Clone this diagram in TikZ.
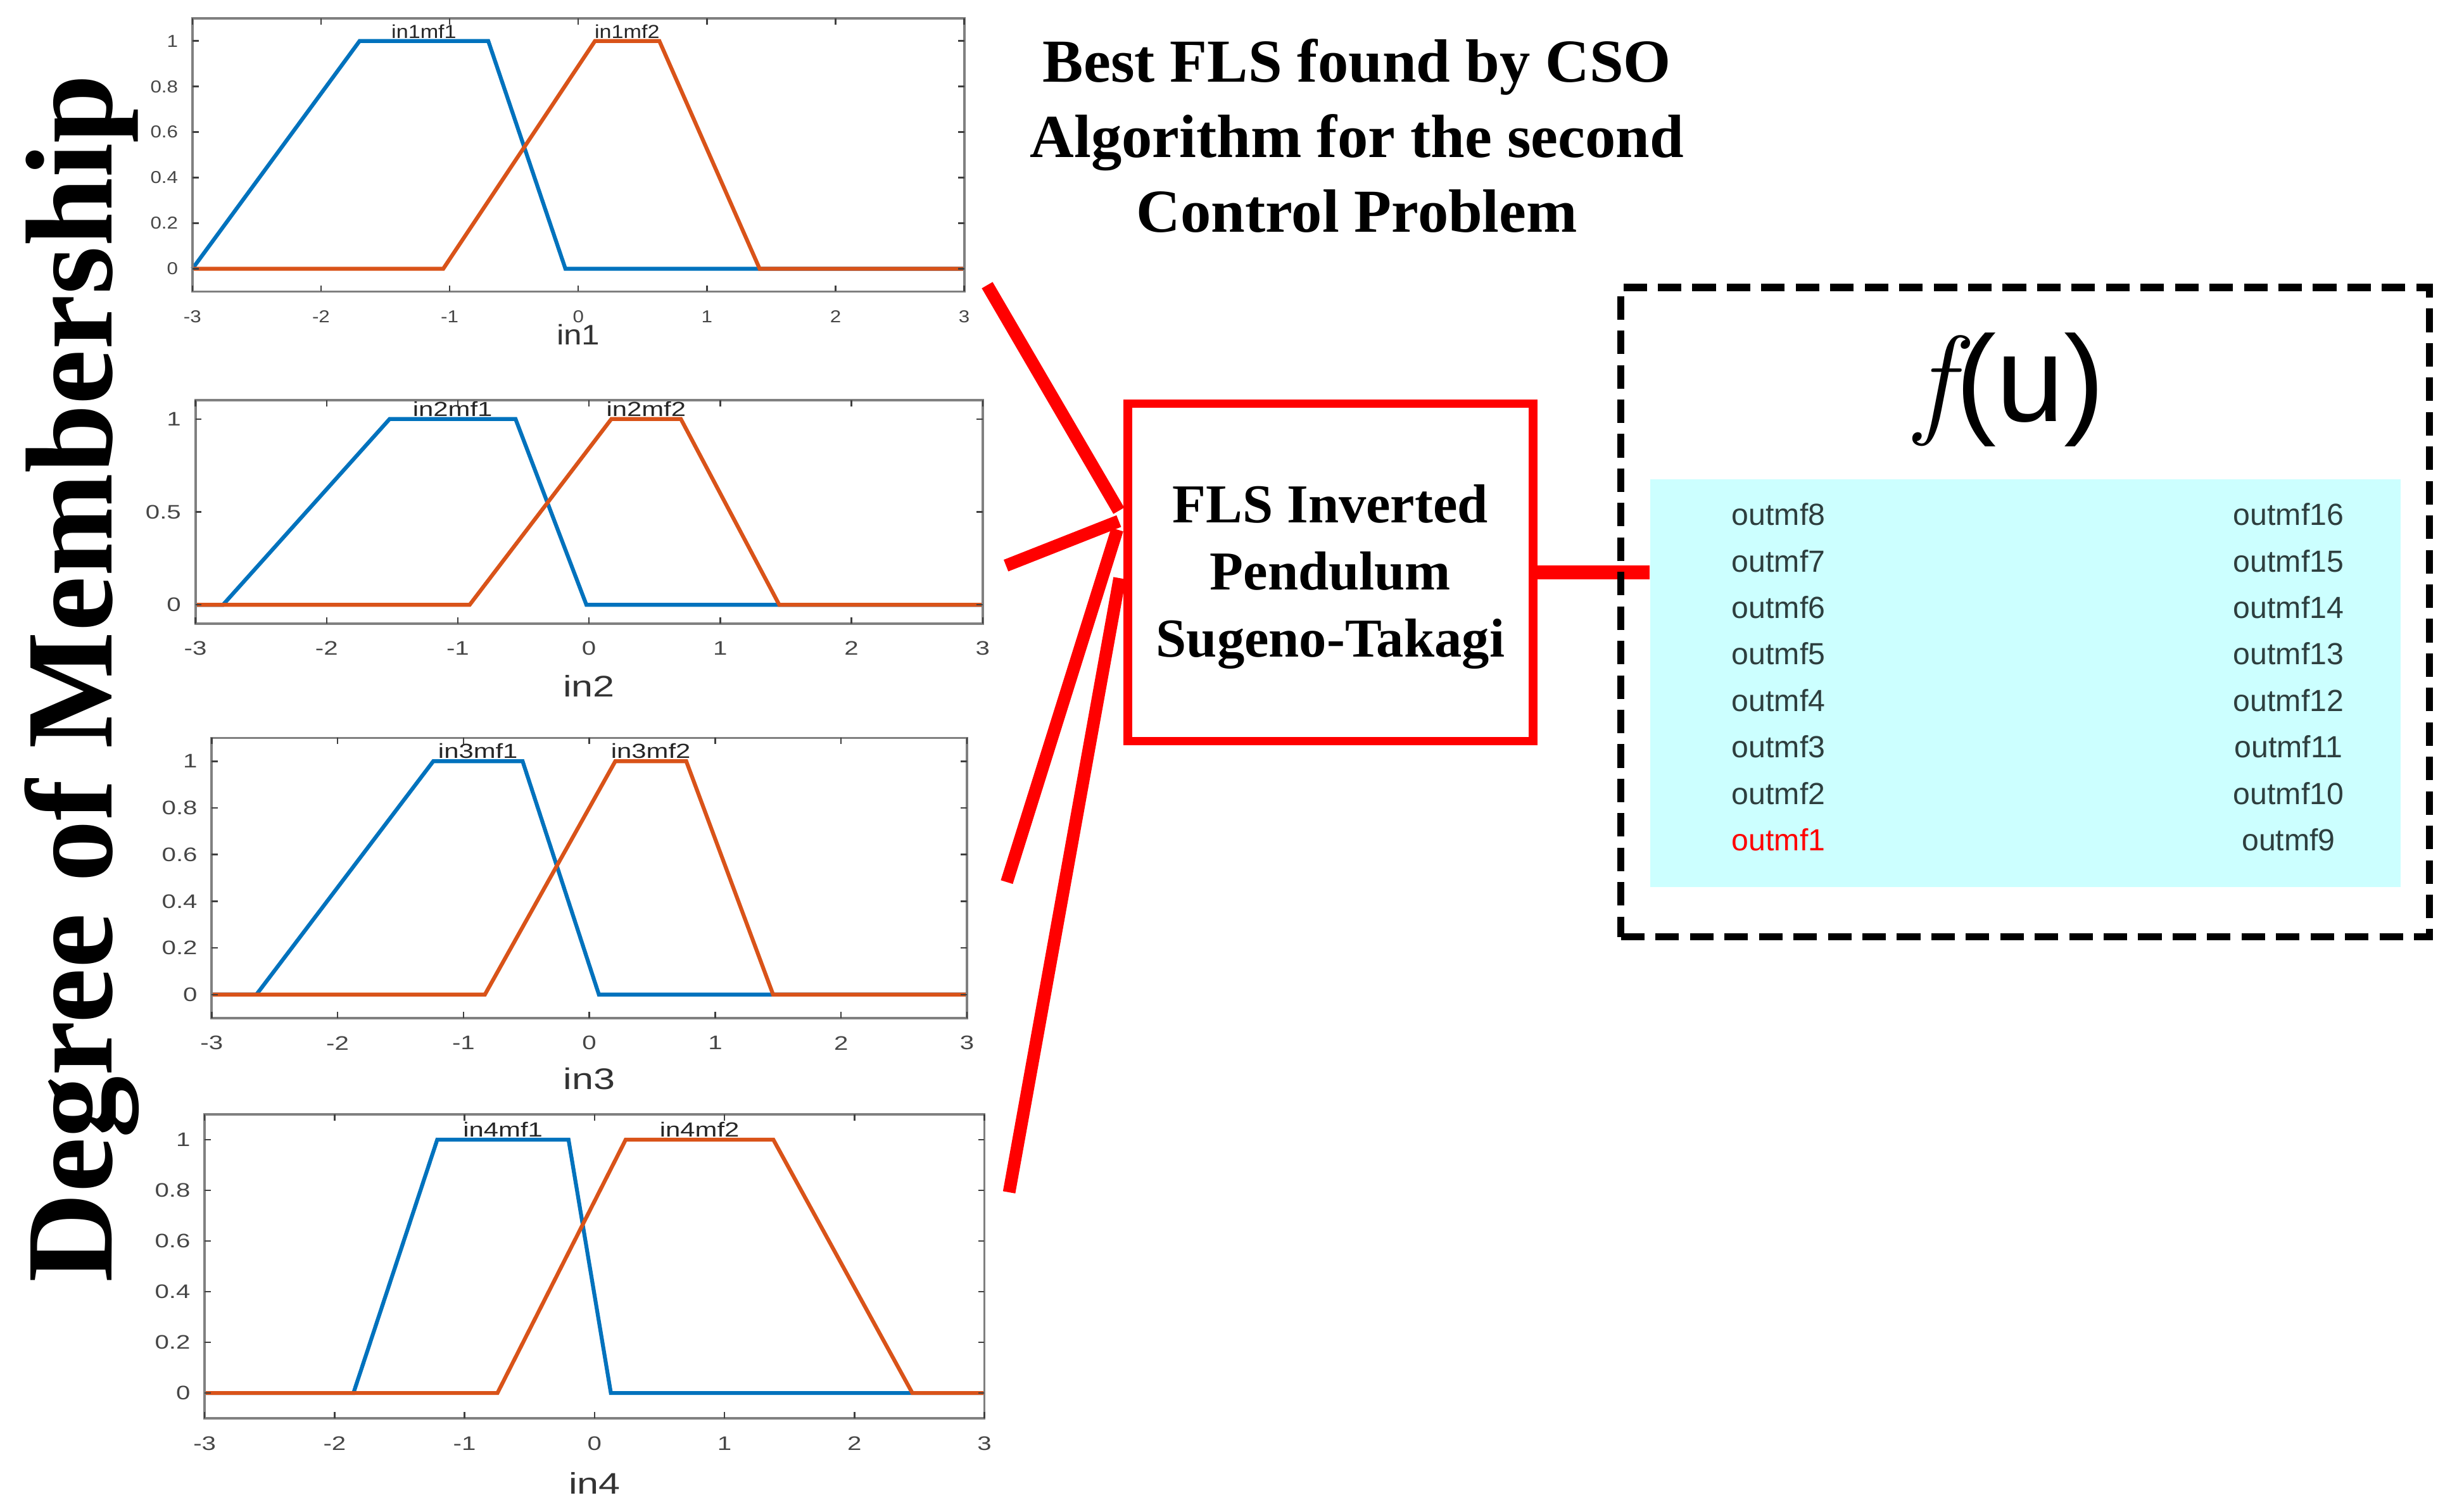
\documentclass[tikz,border=0pt]{standalone}
\usepackage{fontspec}
\setmainfont{Liberation Serif}
\setsansfont{Liberation Sans}
\newfontfamily\lmr{Latin Modern Roman}
\usepackage{graphicx}
\definecolor{mblue}{RGB}{0,114,189}
\definecolor{morange}{RGB}{217,83,25}
\definecolor{axgray}{RGB}{128,128,128}
\definecolor{ticktxt}{RGB}{70,70,70}
\definecolor{lcyan}{RGB}{204,255,255}
\definecolor{mftxt}{RGB}{45,62,62}
\definecolor{fred}{RGB}{255,0,0}
\tikzset{
  bluemf/.style={draw=mblue, line width=2.5pt},
  orangemf/.style={draw=morange, line width=2.5pt},
  axbox/.style={draw=axgray, line width=1.6pt},
  tk/.style={draw=black!75, line width=1pt},
  tl/.style={font=\sffamily\fontsize{\tfs}{\tfs}\selectfont, text=ticktxt, inner sep=0pt},
  mflab/.style={font=\sffamily\fontsize{\mfs}{\mfs}\selectfont, text=black!85, inner sep=1.5pt, anchor=south},
  xl/.style={font=\sffamily\fontsize{\xfs}{\xfs}\selectfont, text=black!80, inner sep=0pt},
  redin/.style={draw=fred, line width=8pt},
  mfout/.style={anchor=base, font=\sffamily\fontsize{19.5}{19.5}\selectfont, text=mftxt, inner sep=0pt},
}
\newcommand\hs[1]{\scalebox{\hsf}[1]{#1}}
% #1 L #2 T #3 R #4 B #5 index #6 y ticks #7 blue a/b/c/d #8 orange a/b/c/d #9 xlabel offset
\newcommand\mfplot[9]{%
  \pgfmathsetmacro\sx{(#3-#1)/6}%
  \pgfmathsetmacro\sy{(#4-#2)/1.2}%
  \pgfmathsetmacro\tkx{4/\sx}%
  \pgfmathsetmacro\tky{4/\sy}%
  \pgfmathsetmacro\lbx{9/\sx}%
  \pgfmathsetmacro\lby{16/\sy}%
  \pgfmathsetmacro\xly{#9/\sy}%
  \begin{scope}[shift={(#1,#4)},xscale=\sx,yscale=-\sy,shift={(3,0.1)}]
    \foreach \pa/\pb/\pc/\pd in {#7}{%
      \draw[bluemf] (-3,0) -- (\pa,0) -- (\pb,1) -- (\pc,1) -- (\pd,0) -- (3,0);}
    \foreach \pa/\pb/\pc/\pd in {#8}{%
      \draw[orangemf] (-3,0) -- (\pa,0) -- (\pb,1) -- (\pc,1) -- (\pd,0) -- (3,0);}
    \foreach \pa/\pb/\pc/\pd in {#7}{%
      \node[mflab] (mf#5a) at ({(\pb+\pc)/2},1) {\hs{in#5mf1}};}
    \foreach \pa/\pb/\pc/\pd in {#8}{%
      \node[mflab] (mf#5b) at ({(\pb+\pc)/2},1) {\hs{in#5mf2}};}
    \draw[axbox] (-3,-0.1) rectangle (3,1.1);
    \foreach \t [count=\i] in {#6}{%
      \draw[tk] (-3,\t) -- ({-3+\tkx},\t);
      \draw[tk] (3,\t) -- ({3-\tkx},\t);
      \node[tl,anchor=east] (p#5y\i) at ({-3-\lbx},\t) {\hs{\t}};}
    \foreach \x [count=\i] in {-3,...,3}{%
      \draw[tk] (\x,-0.1) -- (\x,{-0.1+\tky});
      \draw[tk] (\x,1.1) -- (\x,{1.1-\tky});
      \node[tl] (p#5x\i) at (\x,{-0.1-\lby}) {\hs{\x}};}
    \node[xl] (p#5lab) at (0,{-0.1-\xly}) {\hs{in#5}};
  \end{scope}}
\begin{document}
\begin{tikzpicture}[x=1pt,y=-1pt]
\useasboundingbox[fill=white] (0,0) rectangle (1568,965);

% y-axis label
\node[rotate=90, anchor=base, inner sep=0pt, font=\bfseries\fontsize{79}{79}\selectfont] (ylab) at (71.5,433) {Degree of Membership};

% membership function plots
\def\tfs{11}\def\mfs{12}\def\xfs{18}\def\hsf{1.15}
\mfplot{122.8}{11.6}{615.3}{186.1}{1}{0,0.2,0.4,0.6,0.8,1}{-3/-1.70/-0.70/-0.10}{-1.05/0.13/0.63/1.41}{27.4}
\def\tfs{12.5}\def\mfs{13}\def\xfs{19}\def\hsf{1.3}
\mfplot{124.7}{255.6}{627.1}{397.9}{2}{0,0.5,1}{-2.79/-1.52/-0.56/-0.02}{-0.91/0.17/0.70/1.45}{40}
\mfplot{135.1}{471}{617.1}{649.7}{3}{0,0.2,0.4,0.6,0.8,1}{-2.645/-1.24/-0.53/0.076}{-0.83/0.206/0.77/1.46}{39}
\mfplot{130.6}{711.2}{628.2}{905.3}{4}{0,0.2,0.4,0.6,0.8,1}{-1.855/-1.21/-0.20/0.126}{-0.747/0.24/1.376/2.446}{41.5}

% title
\node[font=\bfseries\fontsize{39}{48}\selectfont, align=center, anchor=north, inner sep=0pt] (title) at (866,24.6) {Best FLS found by CSO\\Algorithm for the second\\Control Problem};

% FLS box
\node[draw=fred, line width=5.4pt, minimum width=258.6pt, minimum height=215.3pt, inner sep=0pt, align=center, font=\bfseries\fontsize{35}{43}\selectfont] (fls) at (849,365.3) {\rule{0pt}{30pt}FLS Inverted\\Pendulum\\Sugeno-Takagi};

% input connectors
\coordinate (s1) at (630,182);
\coordinate (s2) at (642,361);
\coordinate (s3) at (642.5,563);
\coordinate (s4) at (644,761);
\coordinate (e1) at (714,326);
\coordinate (e2) at (714,332.6);
\coordinate (e3) at (713,338);
\coordinate (e4) at (714.5,369);
\draw[redin] (s1) -- (e1);
\draw[redin] (s2) -- (e2);
\draw[redin] (s3) -- (e3);
\draw[redin] (s4) -- (e4);

% output block
\node[fill=lcyan, minimum width=479pt, minimum height=260pt, inner sep=0pt] (outbox) at (1292.5,436) {};
\draw[fred, line width=9pt] (fls.east) -- (fls.east -| outbox.west);
\node[draw=black, line width=4.5pt, dash pattern=on 15pt off 7pt, minimum width=516pt, minimum height=414.5pt, inner sep=0pt] (fbox) at (1292.5,390.75) {};
\node[anchor=base, inner sep=0pt, font=\fontsize{78}{78}\selectfont] (fu) at (1283,269) {{\lmr\itshape f}\kern2pt\sffamily(u)};

\foreach \k in {2,...,8}{\node[mfout] (om\k) at (1135,{335.4+(8-\k)*29.64}) {outmf\k};}
\node[mfout, text=fred] (om1) at (1135,{335.4+7*29.64}) {outmf1};
\foreach \k in {9,...,16}{\node[mfout] (om\k) at (1460.5,{335.4+(16-\k)*29.64}) {outmf\k};}
\end{tikzpicture}
\end{document}
